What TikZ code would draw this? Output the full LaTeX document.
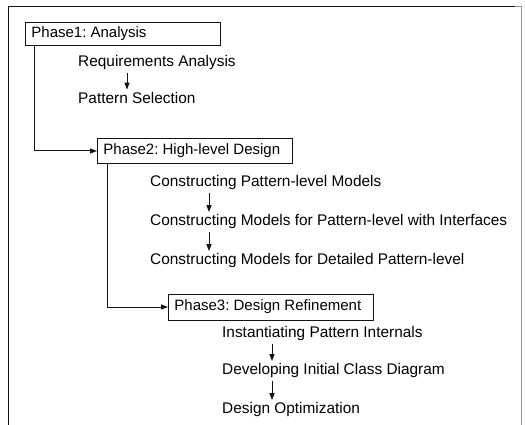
\documentclass[tikz,border=0pt]{standalone}
\usepackage{fontspec}
\setmainfont{Liberation Sans}
\usetikzlibrary{arrows.meta,positioning,calc}
\definecolor{ink}{RGB}{20,20,20}
\definecolor{frame}{RGB}{150,150,150}
\frenchspacing
\newcommand{\phasetext}[2]{\makebox[#1][l]{#2}}

\tikzset{
    phasebox/.style={draw=ink, line width=0.9pt, anchor=west,
        inner xsep=6pt, inner ysep=0pt, minimum height=23pt, font=\fontsize{15}{17}\selectfont},
    stepitem/.style={anchor=west, inner xsep=0pt, inner ysep=2.5pt, font=\fontsize{15.4}{17}\selectfont},
    flow/.style={->, draw=ink, line width=1pt},
}

\begin{document}
\begin{tikzpicture}[x=1pt, y=-1pt, >={Triangle[length=7pt,width=5pt]}]
    \useasboundingbox (0,0) rectangle (525,425);

    % outer frame, open at the bottom
    \draw[ink, line width=0.9pt] (8,425) -- (8,6) -- (515,6);
    \draw[frame, line width=0.5pt] (515,6) -- (521,6) -- (521,425);

    % Phase 1
    \node[phasebox] (p1) at (25,34) {\phasetext{183pt}{Phase1: Analysis}};
    \node[stepitem] (req) at (78,63) {Requirements Analysis};
    \node[stepitem] (sel) at (78,98) {Pattern Selection};
    \draw[flow] ([xshift=49pt]req.south west) -- ([xshift=49pt]sel.north west);

    % Phase 2
    \node[phasebox, minimum height=25pt] (p2) at (97,151) {\phasetext{183pt}{Phase2: High-level Design}};
    \node[stepitem] (cpm) at (150,183) {Constructing Pattern-level Models};
    \node[stepitem] (cmi) at (150,222) {Constructing Models for Pattern-level with Interfaces};
    \node[stepitem] (cmd) at (150,261) {Constructing Models for Detailed Pattern-level};
    \draw[flow] ([xshift=59pt]cpm.south west) -- ([xshift=59pt]cmi.north west);
    \draw[flow] ([xshift=59pt]cmi.south west) -- ([xshift=59pt]cmd.north west);

    % Phase 3
    \node[phasebox, minimum height=26pt] (p3) at (168,307) {\phasetext{193pt}{Phase3: Design Refinement}};
    \node[stepitem] (ipi) at (222,334) {Instantiating Pattern Internals};
    \node[stepitem] (dic) at (222,371) {Developing Initial Class Diagram};
    \node[stepitem] (dop) at (222,410) {Design Optimization};
    \draw[flow] ([xshift=50pt]ipi.south west) -- ([xshift=50pt]dic.north west);
    \draw[flow] ([xshift=50pt]dic.south west) -- ([xshift=50pt]dop.north west);

    % links between phases
    \draw[flow] ([xshift=9pt]p1.south west) |- (p2.west);
    \draw[flow] ([xshift=10pt]p2.south west) |- (p3.west);

\end{tikzpicture}
\end{document}
